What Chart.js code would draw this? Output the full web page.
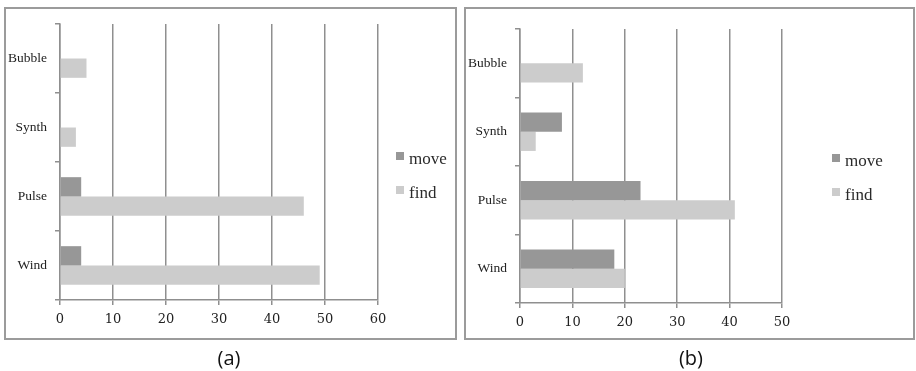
<!DOCTYPE html>
<html>
<head>
<meta charset="utf-8">
<script src="https://cdn.jsdelivr.net/npm/chart.js@4.4.0/dist/chart.umd.min.js"></script>
<style>
  body { margin: 0; background: #fff; width: 916px; height: 371px; position: relative; overflow: hidden; }
  .panel { position: absolute; top: 7px; height: 329px; border: 2px solid #9b9b9b; }
  canvas { position: absolute; top: 0; }
  .caption { position: absolute; top: 344px; width: 100px; text-align: center;
             font-family: "Open Sans", sans-serif; font-size: 20px; line-height: 28px; color: #111; }
  .legend { position: absolute; font-family: "Liberation Serif", serif; font-size: 17px; color: #2a2a2a; }
  .legend .item { position: relative; height: 34px; width: 60px; }
  .legend .box { position: absolute; left: 0; top: 0; width: 8px; height: 8px; }
  .legend .txt { position: absolute; left: 13px; top: -2px; line-height: 18px; white-space: nowrap; }
</style>
</head>
<body>
<div class="panel" style="left:4px; width:449px;"></div>
<div class="panel" style="left:464px; width:447px;"></div>
<canvas id="chartA" width="460" height="345" style="left:0px;"></canvas>
<canvas id="chartB" width="456" height="345" style="left:460px;"></canvas>
<div class="legend" id="legendA" style="left:396px; top:152px;"></div>
<div class="legend" id="legendB" style="left:832px; top:154px;"></div>
<div class="caption" style="left:179px;">(a)</div>
<div class="caption" style="left:641px;">(b)</div>

<script>
// data
const categories = ['Bubble', 'Synth', 'Pulse', 'Wind'];
const seriesNames = ['move', 'find'];
const moveA = [0, 0, 4, 4];
const findA = [5, 3, 46, 49];
const moveB = [0, 8, 23, 18];
const findB = [12, 3, 41, 20];
const xMaxA = 60;
const xMaxB = 50;
const xStep = 10;

const moveColor = '#979797';
const findColor = '#cccccc';
const gridColor = '#8f8f8f';

function makeChart(canvasId, legendId, move, find, xMax, pad) {
    const chart = new Chart(document.getElementById(canvasId), {
        type: 'bar',
        data: {
            labels: categories,
            datasets: [
                { label: seriesNames[0], data: move, backgroundColor: moveColor, barPercentage: 1, categoryPercentage: 0.56 },
                { label: seriesNames[1], data: find, backgroundColor: findColor, barPercentage: 1, categoryPercentage: 0.56 }
            ]
        },
        options: {
            indexAxis: 'y',
            responsive: false,
            animation: false,
            layout: { padding: pad },
            plugins: {
                legend: { display: false },
                tooltip: { enabled: false }
            },
            scales: {
                x: {
                    min: 0,
                    max: xMax,
                    ticks: { stepSize: xStep, padding: 7, color: '#222',
                             font: { family: 'DejaVu Serif', size: 13 } },
                    grid: { color: gridColor, lineWidth: 1.5, tickLength: 5 },
                    border: { display: true, color: gridColor, width: 1.5 },
                    afterFit: function (s) { s.height = 30; }
                },
                y: {
                    ticks: { padding: 8, color: '#222',
                             font: { family: 'Liberation Serif', size: 13.5 } },
                    grid: { drawOnChartArea: false, color: gridColor, lineWidth: 1.5, tickLength: 5 },
                    border: { display: true, color: gridColor, width: 1.5 },
                    afterFit: function (s) { s.width = 60; }
                }
            }
        }
    });

    // html legend built from the chart's own datasets
    const legend = document.getElementById(legendId);
    chart.data.datasets.forEach(function (ds) {
        const item = document.createElement('div');
        item.className = 'item';
        item.innerHTML = '<span class="box" style="background:' + ds.backgroundColor + '"></span>' +
                         '<span class="txt">' + ds.label + '</span>';
        legend.appendChild(item);
    });
    return chart;
}

makeChart('chartA', 'legendA', moveA, findA, xMaxA, { top: 24, right: 82, bottom: 15, left: 0 });
makeChart('chartB', 'legendB', moveB, findB, xMaxB, { top: 29, right: 134, bottom: 12, left: 0 });
</script>
</body>
</html>
